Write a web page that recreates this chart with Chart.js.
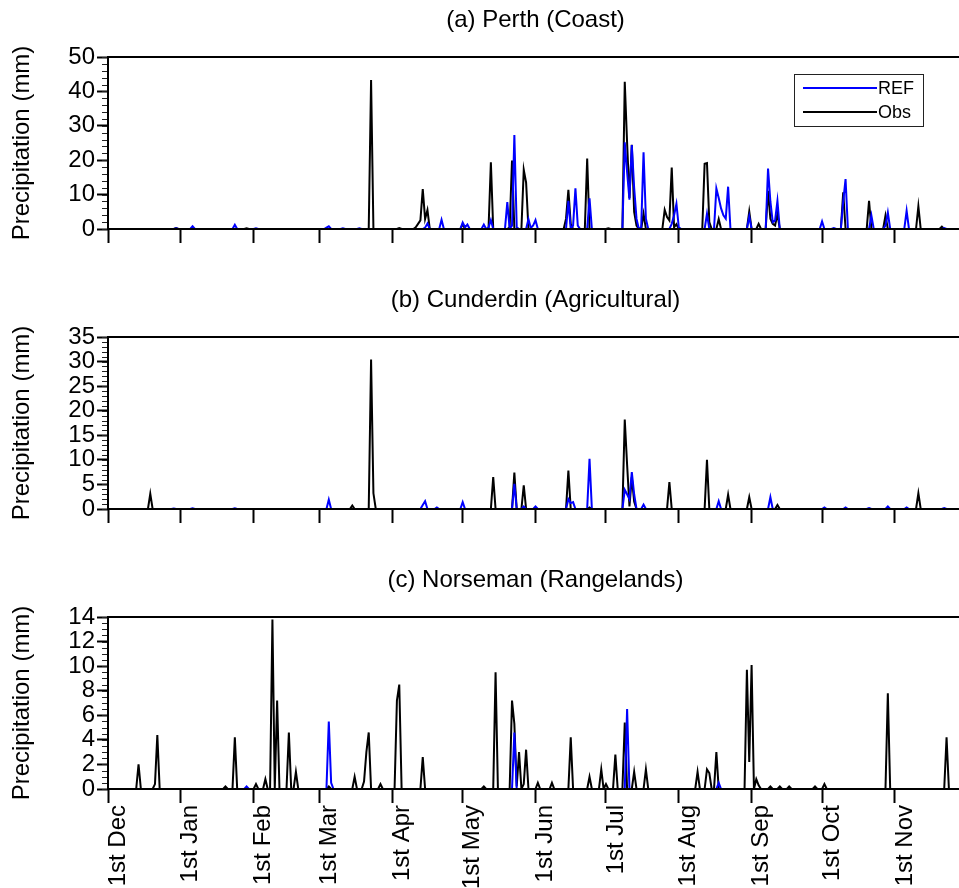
<!DOCTYPE html>
<html>
<head>
<meta charset="utf-8">
<script src="https://cdn.jsdelivr.net/npm/chart.js@4.4.0/dist/chart.umd.min.js"></script>
<style>
  html, body { margin: 0; padding: 0; background: #fff; overflow: hidden; width: 959px; height: 888px; }
  canvas { position: absolute; left: 0; }
</style>
</head>
<body>
<canvas id="perth" width="964" height="280" style="top:0px"></canvas>
<canvas id="cunderdin" width="964" height="280" style="top:280px"></canvas>
<canvas id="norseman" width="964" height="328" style="top:560px"></canvas>
<script>
// Daily precipitation, 1 Dec to 30 Nov (day 0 = 1st Dec). Days not listed are dry (0 mm).
const dayCount = 365;
const monthStarts = [0, 31, 62, 90, 121, 151, 182, 212, 243, 274, 304, 335];
const monthLabels = ['1st Dec', '1st Jan', '1st Feb', '1st Mar', '1st Apr', '1st May',
                     '1st Jun', '1st Jul', '1st Aug', '1st Sep', '1st Oct', '1st Nov'];
const seriesNames = ['REF', 'Obs'];
const panelTitles = ['(a) Perth (Coast)', '(b) Cunderdin (Agricultural)', '(c) Norseman (Rangelands)'];

// Value-axis labels for each panel
const perthTicks = [0, 10, 20, 30, 40, 50];
const cunderdinTicks = [0, 5, 10, 15, 20, 25, 30, 35];
const norsemanTicks = [0, 2, 4, 6, 8, 10, 12, 14];

// [day, mm]
const perthRef = [
  [29, 0.2], [36, 0.8], [54, 1.2], [63, 0.2], [93, 0.4], [94, 0.8], [100, 0.2], [107, 0.2],
  [135, 0.4], [136, 1.6], [142, 2.7], [151, 1.9], [152, 0.5], [153, 1.3], [160, 1.3],
  [162, 0.4], [163, 2.6], [170, 7.8], [172, 1.0], [173, 27.3], [174, 0.5],
  [179, 2.9], [180, 0.3], [181, 1.0], [182, 2.6],
  [196, 8.2], [198, 1.0], [199, 11.8], [200, 1.0], [205, 8.9],
  [220, 25.2], [221, 16.5], [222, 8.5], [223, 24.4], [224, 12.0], [225, 3.0], [227, 0.5], [228, 22.3], [229, 3.0],
  [240, 1.5], [241, 4.0], [242, 7.3], [243, 0.5],
  [255, 4.4], [259, 11.8], [260, 9.0], [261, 6.0], [262, 4.0], [263, 3.0], [264, 12.3],
  [273, 3.7], [281, 17.6], [282, 8.0], [283, 2.0], [284, 2.5], [285, 8.2],
  [304, 2.2], [309, 0.3], [313, 8.0], [314, 14.5], [325, 3.9], [331, 1.0], [332, 4.8],
  [340, 5.3], [356, 0.3]
];
const perthObs = [
  [29, 0.3], [59, 0.2], [112, 43.3], [124, 0.3],
  [131, 0.5], [132, 1.5], [133, 2.5], [134, 11.6], [135, 2.9], [136, 5.5],
  [151, 1.4], [163, 19.4], [171, 0.5], [172, 19.9], [177, 17.2], [178, 13.5],
  [195, 3.0], [196, 11.4], [197, 1.5], [204, 20.5], [213, 0.2],
  [220, 42.8], [221, 25.0], [222, 9.0], [223, 24.5], [224, 5.0], [225, 1.0], [228, 4.4],
  [237, 5.6], [238, 3.5], [239, 2.5], [240, 17.9], [241, 0.5], [242, 1.4],
  [254, 19.0], [255, 19.2], [256, 2.0], [260, 2.9], [273, 5.1], [277, 1.5],
  [281, 11.1], [282, 3.0], [283, 1.5], [284, 1.0], [285, 4.4],
  [313, 10.7], [324, 8.2], [331, 3.9], [345, 6.6], [355, 0.7]
];
const cunderdinRef = [
  [28, 0.1], [36, 0.15], [54, 0.15], [94, 1.9], [134, 0.8], [135, 1.6], [140, 0.3], [151, 1.4],
  [173, 5.1], [177, 0.5], [182, 0.5], [196, 2.0], [197, 1.2], [198, 1.4], [205, 10.2],
  [220, 3.9], [221, 3.0], [222, 2.0], [223, 7.5], [224, 3.0], [228, 0.9],
  [260, 1.6], [282, 2.4], [305, 0.3], [314, 0.3], [324, 0.2], [332, 0.5], [340, 0.3], [356, 0.2]
];
const cunderdinObs = [
  [18, 3.1], [104, 0.7], [112, 30.4], [113, 3.2], [164, 6.5], [173, 7.4], [177, 4.8],
  [196, 7.8], [205, 0.3], [220, 18.2], [221, 9.0], [222, 0.5], [223, 6.5], [224, 1.5],
  [239, 5.5], [255, 10.0], [264, 2.9], [273, 2.4], [285, 0.8], [345, 3.2]
];
const norsemanRef = [
  [59, 0.2], [94, 5.5], [95, 0.5], [173, 4.6], [221, 6.5], [260, 0.5]
];
const norsemanObs = [
  [13, 2.0], [20, 0.4], [21, 4.4], [50, 0.2], [54, 4.2], [63, 0.4], [67, 0.8], [70, 13.8], [72, 7.2],
  [77, 4.6], [80, 1.4], [94, 0.2], [105, 1.0], [109, 0.6], [110, 3.0], [111, 4.6], [116, 0.4],
  [123, 7.2], [124, 8.5], [134, 2.6], [160, 0.2], [165, 9.5], [172, 7.2], [173, 5.3], [174, 0.2],
  [175, 3.0], [177, 0.4], [178, 3.2], [183, 0.5], [189, 0.5], [197, 4.2], [205, 1.0], [210, 1.6],
  [212, 0.4], [216, 2.8], [220, 5.4], [224, 1.4], [229, 1.6],
  [251, 1.4], [255, 1.6], [256, 1.3], [259, 3.0], [272, 9.7], [273, 2.2], [274, 10.1], [276, 0.8],
  [277, 0.3], [282, 0.2], [286, 0.2], [290, 0.2], [301, 0.2], [305, 0.4], [332, 7.8], [357, 4.2]
];

const FONT = '"Liberation Sans", Arial, Helvetica, sans-serif';
Chart.defaults.font.family = FONT;
Chart.defaults.color = '#000';

function daily(events) {
  const v = new Array(dayCount).fill(0);
  events.forEach(([d, mm]) => { v[d] = mm; });
  return v.map((y, x) => ({ x, y }));
}

// Box round the plot area plus minor tick marks on the value axis
const framePlugin = {
  id: 'frame',
  afterDatasetsDraw(chart, args, opts) {
    const { ctx, chartArea: a, scales: { y } } = chart;
    ctx.save();
    ctx.strokeStyle = '#222';
    ctx.lineWidth = 1;
    const n = Math.round((y.max - y.min) / opts.minorStep);
    for (let i = 0; i <= n; i++) {
      const py = Math.round(y.getPixelForValue(y.min + i * opts.minorStep)) + 0.5;
      ctx.beginPath();
      ctx.moveTo(a.left - opts.minorLength, py);
      ctx.lineTo(a.left, py);
      ctx.stroke();
    }
    ctx.strokeStyle = '#000';
    ctx.lineWidth = 2;
    ctx.strokeRect(a.left, a.top, a.right - a.left, a.bottom - a.top);
    ctx.restore();
  }
};

// Boxed legend in the upper right of the plot
const legendBox = {
  id: 'legendBox',
  afterDraw(chart, args, opts) {
    if (!opts.show) return;
    const { ctx, chartArea: a } = chart;
    const left = a.right - 169, top = a.top + 17, w = 129, h = 52;
    ctx.save();
    ctx.fillStyle = '#fff';
    ctx.fillRect(left, top, w, h);
    ctx.strokeStyle = '#222';
    ctx.lineWidth = 1;
    ctx.strokeRect(left + 0.5, top + 0.5, w, h);
    ctx.font = '18px ' + FONT;
    ctx.textBaseline = 'middle';
    chart.data.datasets.forEach((ds, i) => {
      const yy = top + 14 + i * 24;
      ctx.strokeStyle = ds.borderColor;
      ctx.lineWidth = 2;
      ctx.beginPath();
      ctx.moveTo(left + 9, yy);
      ctx.lineTo(left + 83, yy);
      ctx.stroke();
      ctx.fillStyle = '#000';
      ctx.fillText(ds.label, left + 84, yy + 1);
    });
    ctx.restore();
  }
};

function makePanel(id, title, ref, obs, yTicks, minorStep, showDates, showLegend) {
  const xAxisHeight = document.getElementById(id).height - 229;
  return new Chart(document.getElementById(id), {
    type: 'line',
    data: {
      datasets: [
        { label: seriesNames[0], data: daily(ref), borderColor: '#0000ff', borderWidth: 2,
          pointRadius: 0, tension: 0, fill: false },
        { label: seriesNames[1], data: daily(obs), borderColor: '#000000', borderWidth: 2,
          pointRadius: 0, tension: 0, fill: false }
      ]
    },
    options: {
      responsive: false,
      animation: false,
      devicePixelRatio: 1,
      events: [],
      layout: { padding: { left: 0, right: 1, top: 0, bottom: 0 } },
      plugins: {
        legend: { display: false },
        tooltip: { enabled: false },
        title: {
          display: true, text: title, fullSize: false, color: '#000',
          font: { size: 24, weight: 'normal', lineHeight: 1.2 },
          padding: { top: 6, bottom: 22.2 }
        },
        frame: { minorStep, minorLength: 6 },
        legendBox: { show: showLegend }
      },
      scales: {
        x: {
          type: 'linear', min: 0, max: dayCount - 1,
          afterBuildTicks: s => { s.ticks = monthStarts.map(v => ({ value: v })); },
          afterFit: s => { s.height = xAxisHeight; },
          border: { display: false },
          grid: { drawOnChartArea: false, drawTicks: true, tickLength: 14, tickWidth: 2, tickColor: '#000' },
          ticks: {
            display: showDates, autoSkip: false, minRotation: 90, maxRotation: 90,
            labelOffset: 10, padding: 2, color: '#000', font: { size: 24 },
            callback: (v, i) => monthLabels[i]
          }
        },
        y: {
          min: yTicks[0], max: yTicks[yTicks.length - 1],
          afterBuildTicks: s => { s.ticks = yTicks.map(v => ({ value: v })); },
          afterFit: s => { s.width = 108; },
          border: { display: false },
          grid: { drawOnChartArea: false, drawTicks: true, tickLength: 11, tickWidth: 2, tickColor: '#000' },
          ticks: { autoSkip: false, color: '#000', font: { size: 24 }, padding: 2,
                   callback: v => String(v) },
          title: {
            display: true, text: 'Precipitation (mm)', color: '#000',
            font: { size: 24, lineHeight: 1.2 }, padding: { top: 8, bottom: 0 }
          }
        }
      }
    },
    plugins: [framePlugin, legendBox]
  });
}

makePanel('perth', panelTitles[0], perthRef, perthObs, perthTicks, 2, false, true);
makePanel('cunderdin', panelTitles[1], cunderdinRef, cunderdinObs, cunderdinTicks, 1, false, false);
makePanel('norseman', panelTitles[2], norsemanRef, norsemanObs, norsemanTicks, 0.5, true, false);
</script>
</body>
</html>
